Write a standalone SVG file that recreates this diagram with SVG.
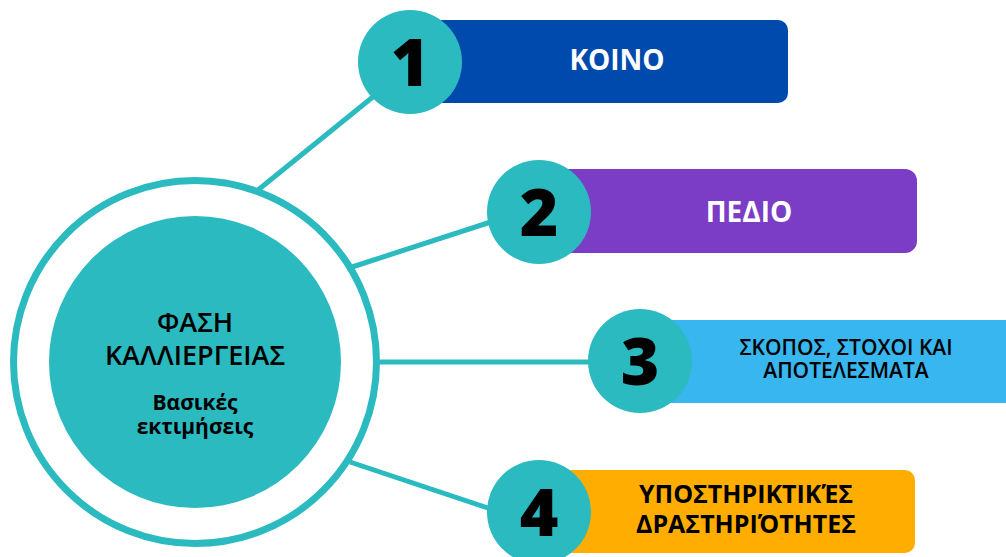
<svg xmlns="http://www.w3.org/2000/svg" width="1006" height="557" viewBox="0 0 1006 557">
<style>
.conn{stroke:#2BBABF;stroke-width:5;fill:none}
.badge{fill:#2BBABF}
.num{font-family:"Open Sans","DejaVu Sans",sans-serif;font-weight:800;font-size:66px;fill:#000;text-anchor:middle}
.lbl{font-family:"Open Sans","Noto Sans","DejaVu Sans",sans-serif;text-anchor:middle}
</style>
<rect width="1006" height="557" fill="#fff"/>
<g id="connectors">
<line class="conn" x1="258" y1="190" x2="395" y2="79"/>
<line class="conn" x1="352" y1="267" x2="500" y2="219"/>
<line class="conn" x1="380" y1="362" x2="600" y2="362"/>
<line class="conn" x1="350" y1="462" x2="500" y2="512"/>
</g>
<g id="center">
<circle cx="195" cy="362" r="181.5" fill="none" stroke="#2BBABF" stroke-width="7"/>
<circle cx="195" cy="362" r="146" fill="#2BBABF"/>
<text class="lbl" x="195" y="332" font-size="27" font-weight="600" fill="#000">ΦΑΣΗ</text>
<text class="lbl" x="195" y="365" font-size="27" font-weight="600" fill="#000">ΚΑΛΛΙΕΡΓΕΙΑΣ</text>
<text class="lbl" x="195" y="410" font-size="21" font-weight="700" fill="#000">Βασικές</text>
<text class="lbl" x="195" y="434" font-size="21" font-weight="700" fill="#000">εκτιμήσεις</text>
</g>
<g id="node1">
<path d="M410 20 H778 a10 10 0 0 1 10 10 V93 a10 10 0 0 1 -10 10 H410 Z" fill="#004AAD"/>
<circle class="badge" cx="410" cy="62" r="52"/>
<text class="num" x="410" y="86">1</text>
<text class="lbl" x="617" y="70" font-size="28" font-weight="700" fill="#fff">ΚΟΙΝΟ</text>
</g>
<g id="node2">
<path d="M539 169 H905 a12 12 0 0 1 12 12 V241 a12 12 0 0 1 -12 12 H539 Z" fill="#7B3CC6"/>
<circle class="badge" cx="539" cy="212" r="52"/>
<text class="num" x="539" y="236">2</text>
<text class="lbl" x="749" y="222" font-size="28" font-weight="700" fill="#fff">ΠΕΔΙΟ</text>
</g>
<g id="node3">
<rect x="640" y="320" width="366" height="83" fill="#38B6EF"/>
<circle class="badge" cx="640" cy="361" r="52"/>
<text class="num" x="640" y="385">3</text>
<text class="lbl" x="846" y="355" font-size="21" font-weight="600" fill="#000">ΣΚΟΠΟΣ, ΣΤΟΧΟΙ ΚΑΙ</text>
<text class="lbl" x="846" y="378" font-size="21" font-weight="600" fill="#000">ΑΠΟΤΕΛΕΣΜΑΤΑ</text>
</g>
<g id="node4">
<path d="M539 470 H905 a10 10 0 0 1 10 10 V543 a10 10 0 0 1 -10 10 H539 Z" fill="#FFAE00"/>
<circle class="badge" cx="539" cy="512" r="52"/>
<text class="num" x="539" y="536">4</text>
<text class="lbl" x="746" y="503" font-size="25" font-weight="700" fill="#000">ΥΠΟΣΤΗΡΙΚΤΙΚΈΣ</text>
<text class="lbl" x="746" y="533" font-size="25" font-weight="700" fill="#000">ΔΡΑΣΤΗΡΙΌΤΗΤΕΣ</text>
</g>
</svg>
